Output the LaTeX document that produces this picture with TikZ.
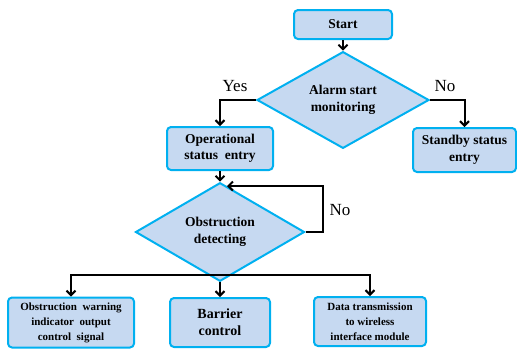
\documentclass[tikz,border=0pt]{standalone}
\usepackage{fontspec}
\setmainfont{Liberation Serif}
\usetikzlibrary{shapes.geometric,arrows.meta}
\definecolor{boxfill}{HTML}{C6D9F1}
\definecolor{boxline}{HTML}{00B0F0}
\begin{document}
\begin{tikzpicture}[x=1pt,y=-1pt,
  base/.style={draw=boxline,fill=boxfill,line width=2pt,inner sep=0pt,align=center,font=\bfseries},
  procbox/.style={base,rectangle,rounded corners=4pt},
  decide/.style={base,diamond},
  bigtext/.style={font=\bfseries\fontsize{13.5}{16.5}\selectfont},
  smalltext/.style={font=\bfseries\fontsize{11}{15}\selectfont},
  flow/.style={line width=2pt,-{Straight Barb[length=4.5pt,width=9pt,line width=2pt]}},
  lbl/.style={font=\fontsize{17}{19}\selectfont}]
\useasboundingbox (0,0) rectangle (517,349);
% process and decision nodes
\node[procbox,bigtext,minimum width=98pt,minimum height=29pt] (start) at (343,24.5) {Start};
\node[decide,bigtext,minimum width=172pt,minimum height=68pt] (alarm) at (343,100) {Alarm start\\monitoring};
\node[procbox,bigtext,minimum width=106pt,minimum height=43pt] (oper) at (220,148.5) {Operational\\status\ \ entry};
\node[procbox,bigtext,minimum width=103pt,minimum height=44pt] (standby) at (464.5,150) {Standby status\\entry};
\node[decide,bigtext,minimum width=169pt,minimum height=64pt] (obst) at (220,232) {Obstruction\\detecting};
\node[procbox,smalltext,minimum width=126pt,minimum height=50pt] (warn) at (71,322.5) {Obstruction\ \ warning\\indicator\ \ output\\control\ \ signal};
\node[procbox,minimum width=100pt,minimum height=49pt,font=\bfseries\fontsize{14}{17}\selectfont] (barrier) at (220,322.5) {Barrier\\control};
\node[procbox,smalltext,minimum width=112pt,minimum height=49pt] (data) at (370,321.5) {Data transmission\\to wireless\\interface module};
% connectors
\draw[flow] (start) -- (alarm);
\draw[flow] (alarm.west) -| (oper.north);
\draw[flow] (alarm.east) -| (standby.north);
\draw[flow] (oper) -- (obst);
\coordinate (loopend) at (227,186);
\draw[flow] (obst.east) -- ++(17,0) |- (loopend);
\coordinate (split) at (220,275);
\draw[flow] (obst.south) -- (barrier.north);
\draw[flow] (split) -| (warn.north);
\draw[flow] (split) -| (data.north);
% branch labels
\node[lbl] (yes) at (235,86) {Yes};
\node[lbl] (no1) at (445,86) {No};
\node[lbl] (no2) at (340,210) {No};
\end{tikzpicture}
\end{document}
